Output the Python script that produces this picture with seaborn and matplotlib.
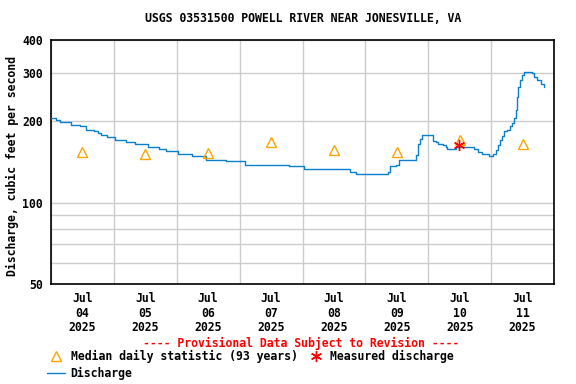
import matplotlib
matplotlib.use("Agg")
import matplotlib.pyplot as plt
import matplotlib.dates as mdates
from matplotlib.ticker import FixedLocator, FixedFormatter, NullFormatter
from matplotlib.lines import Line2D
import seaborn as sns
import pandas as pd

# Datos (horas desde 2025-07-04 00:00)
start = pd.Timestamp("2025-07-04 00:00")
q_hours = [0, 1.9, 3.4, 7.7, 11.2, 13.4, 16.6, 17.9, 19.2, 21.4, 24.6, 28.7, 31.9,
           37.0, 41.4, 43.9, 48.4, 53.8, 59.0, 66.7, 74.2, 90.8, 96.4, 114.3, 116.5,
           128.5, 129.5, 131.7, 133.0, 139.3, 140.2, 140.7, 141.5, 146.0, 146.8, 147.8,
           149.5, 150.7, 151.1, 154.6, 161.5, 162.8, 164.7, 167.0, 168.9, 169.8, 170.6,
           171.3, 172.1, 173.1, 174.1, 175.1, 176.1, 176.8, 177.4, 177.9, 178.4, 178.9,
           179.7, 180.6, 183.5, 184.4, 185.7, 187.0, 188.2]
q_cfs = [205, 202, 198, 194, 191, 186, 184, 180, 177, 174, 170, 167, 164,
         161, 158, 155, 151, 148, 144, 142, 138, 136, 133, 130, 127,
         130, 136, 138, 143, 150, 165, 172, 177, 169, 167, 165,
         163, 161, 157, 161, 157, 154, 151, 148, 151, 156, 163,
         170, 176, 183, 186, 191, 196, 205, 220, 246, 268, 283,
         296, 304, 300, 291, 283, 274, 266]

median_hours = [12, 36, 60, 84, 108, 132, 156, 180]
median_cfs = [154, 151, 152, 167, 156, 153, 170, 164]

measured_hours = [155.8]
measured_cfs = [163]

y_ticks = [50, 100, 200, 300, 400]
y_minor = [60, 70, 80, 90]

df = pd.DataFrame({"time": start + pd.to_timedelta(q_hours, unit="h"), "cfs": q_cfs})
df_med = pd.DataFrame({"time": start + pd.to_timedelta(median_hours, unit="h"), "cfs": median_cfs})
df_meas = pd.DataFrame({"time": start + pd.to_timedelta(measured_hours, unit="h"), "cfs": measured_cfs})

# Estilo
sns.set_style("white")
plt.rcParams["font.family"] = ["DejaVu Sans Mono"]
plt.rcParams["font.weight"] = "bold"
plt.rcParams["font.size"] = 8.3
plt.rcParams["text.color"] = "black"
plt.rcParams["xtick.color"] = "black"
plt.rcParams["ytick.color"] = "black"

blue = "#0a7fcc"
orange = "#ffa500"

fig = plt.figure(figsize=(5.76, 3.84), dpi=100)
ax = fig.add_axes([51 / 576, 1 - 284 / 384, (554 - 51) / 576, (284 - 39.5) / 384])

sns.lineplot(data=df, x="time", y="cfs", estimator=None, drawstyle="steps-post",
             color=blue, linewidth=1.0, ax=ax, zorder=3)
sns.lineplot(data=df_med, x="time", y="cfs", estimator=None, linestyle="", marker="^",
             markersize=7.5, markerfacecolor="none", markeredgecolor=orange,
             markeredgewidth=1.0, ax=ax, zorder=4)
sns.lineplot(data=df_meas, x="time", y="cfs", estimator=None, linestyle="", marker=(6, 2, 0),
             markersize=8, markeredgecolor="red", color="red",
             markeredgewidth=1.0, ax=ax, zorder=5)

# Ejes
ax.set_yscale("log")
ax.set_ylim(50, 400)
ax.yaxis.set_major_locator(FixedLocator(y_ticks))
ax.yaxis.set_major_formatter(FixedFormatter([str(v) for v in y_ticks]))
ax.yaxis.set_minor_locator(FixedLocator(y_minor))
ax.yaxis.set_minor_formatter(NullFormatter())

ax.set_xlim(start, start + pd.Timedelta(days=8))
ax.xaxis.set_major_locator(mdates.HourLocator(byhour=12))
ax.xaxis.set_major_formatter(mdates.DateFormatter("%b\n%d\n%Y"))
ax.xaxis.set_minor_locator(mdates.DayLocator())

ax.grid(False)
ax.grid(which="minor", axis="x", color="#cccccc", linewidth=1.0)
ax.grid(which="both", axis="y", color="#cccccc", linewidth=1.0)
ax.tick_params(which="both", length=0, colors="black")
ax.tick_params(axis="y", pad=6)
ax.tick_params(axis="x", pad=6)
for lab in ax.get_xticklabels():
    lab.set_linespacing(1.15)
for s in ax.spines.values():
    s.set_color("black")
    s.set_linewidth(1.2)
ax.set_xlabel("")
ax.set_ylabel("")

fig.text(303 / 576, 1 - 19 / 384, "USGS 03531500 POWELL RIVER NEAR JONESVILLE, VA",
         ha="center", va="center", color="black")
fig.text(12 / 576, 1 - 166 / 384, "Discharge, cubic feet per second",
         rotation=90, ha="center", va="center", color="black")
fig.text(301 / 576, 1 - 343 / 384, "---- Provisional Data Subject to Revision ----",
         ha="center", va="center", color="red")

handles = [
    Line2D([], [], linestyle="", marker="^", markersize=7.5, markerfacecolor="none",
           markeredgecolor=orange, markeredgewidth=1.0),
    Line2D([], [], color=blue, linewidth=1.0),
    Line2D([], [], linestyle="", marker=(6, 2, 0), markersize=8, markeredgecolor="red",
           markeredgewidth=1.0),
]
labels = ["Median daily statistic (93 years)", "Discharge", "Measured discharge"]
leg = fig.legend(handles, labels, loc="upper left", bbox_to_anchor=(47 / 576, 1 - 350 / 384),
                 ncol=2, frameon=False, borderpad=0, borderaxespad=0, handlelength=1.55,
                 handletextpad=0.5, columnspacing=0.8, labelspacing=0.35)
for t in leg.get_texts():
    t.set_color("black")

fig.savefig("out.png", dpi=100)
